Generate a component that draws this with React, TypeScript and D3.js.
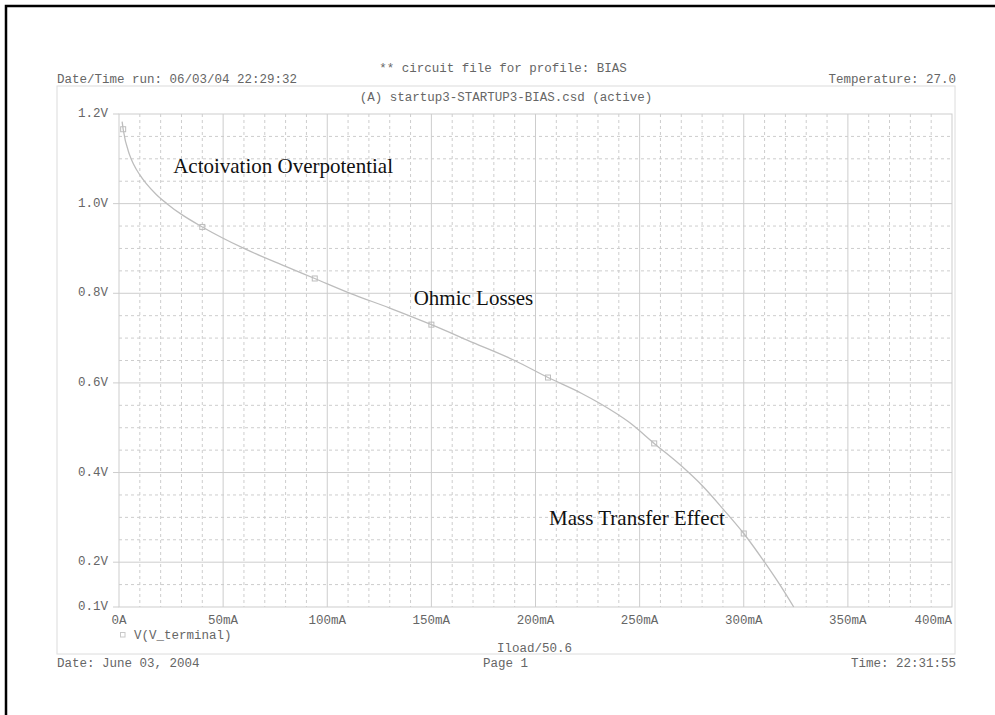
import React from "react";
import * as d3 from "d3";

const curveI = [1.5, 2, 5, 7, 10, 13, 18, 23, 30, 40, 60, 80, 94, 111, 130, 150, 170, 190, 206, 222, 231, 245, 257, 270, 280, 290, 300, 310, 317, 324];
const curveV = [1.183, 1.166, 1.11, 1.088, 1.064, 1.045, 1.02, 1.0, 0.976, 0.948, 0.9, 0.86, 0.833, 0.8, 0.767, 0.73, 0.69, 0.65, 0.612, 0.577, 0.554, 0.512, 0.465, 0.415, 0.371, 0.319, 0.264, 0.2, 0.152, 0.1];
const markerI = [2, 40, 94, 150, 206, 257, 300];
const markerV = [1.166, 0.948, 0.833, 0.73, 0.612, 0.465, 0.264];
const xTicks = [0, 50, 100, 150, 200, 250, 300, 350, 400];
const xTickLabels = ["0A", "50mA", "100mA", "150mA", "200mA", "250mA", "300mA", "350mA", "400mA"];
const yTicks = [0.1, 0.2, 0.4, 0.6, 0.8, 1.0, 1.2];
const yTickLabels = ["0.1V", "0.2V", "0.4V", "0.6V", "0.8V", "1.0V", "1.2V"];
const annotations = [
  { text: "Actoivation Overpotential", i: 26, v: 1.068 },
  { text: "Ohmic Losses", i: 141.5, v: 0.774 },
  { text: "Mass Transfer Effect", i: 206.5, v: 0.282 },
];

const mono = "'Liberation Mono', 'Courier New', monospace";
const serif = "'Liberation Serif', 'Times New Roman', serif";
const txt = "#666";
const gridC = "#cdcdcd";

export default function App() {
  const x = d3.scaleLinear().domain([0, 400]).range([119, 952]);
  const y = d3.scaleLinear().domain([0.1, 1.2]).range([607, 114]);
  const minorX = d3.range(0, 401, 10).filter((v) => v % 50 !== 0);
  const minorY = d3.range(0.15, 1.2, 0.05).map((v) => Math.round(v * 100) / 100).filter((v) => Math.round(v * 100) % 20 !== 0);
  const majorY = [0.2, 0.4, 0.6, 0.8, 1.0];
  const line = d3.line<number>().x((d, i) => x(curveI[i])).y((d) => y(d)).curve(d3.curveMonotoneX);
  const [x0, x1] = x.range();
  const [y0, y1] = y.range();
  return (
    <svg width={995} height={715} style={{ position: "absolute", left: 0, top: 0, background: "#fff" }}>
      <rect x={6} y={6} width={1100} height={800} fill="none" stroke="#000" strokeWidth={2.5} />
      <rect x={57} y={86} width={898} height={568} fill="none" stroke="#dcdcdc" strokeWidth={1} />
      {minorX.map((v) => (
        <line key={"mx" + v} x1={x(v)} x2={x(v)} y1={y1} y2={y0} stroke={gridC} strokeWidth={1} strokeDasharray="3,3" />
      ))}
      {minorY.map((v) => (
        <line key={"my" + v} x1={x0} x2={x1} y1={y(v)} y2={y(v)} stroke={gridC} strokeWidth={1} strokeDasharray="3,3" />
      ))}
      {xTicks.slice(1, -1).map((v) => (
        <line key={"Mx" + v} x1={x(v)} x2={x(v)} y1={y1} y2={y0} stroke={gridC} strokeWidth={1} />
      ))}
      {majorY.map((v) => (
        <line key={"My" + v} x1={x0} x2={x1} y1={y(v)} y2={y(v)} stroke={gridC} strokeWidth={1} />
      ))}
      <rect x={x0} y={y1} width={x1 - x0} height={y0 - y1} fill="none" stroke={gridC} strokeWidth={1} />
      {yTicks.map((v) => (
        <line key={"yt" + v} x1={x0 - 6} x2={x0} y1={y(v)} y2={y(v)} stroke={gridC} strokeWidth={1} />
      ))}
      <path d={line(curveV) || ""} fill="none" stroke="#bdbdbd" strokeWidth={1.3} />
      {markerI.map((v, i) => (
        <rect key={"mk" + i} x={x(v) - 2.5} y={y(markerV[i]) - 2.5} width={5} height={5} fill="none" stroke="#bdbdbd" strokeWidth={1} />
      ))}
      <g fontFamily={mono} fontSize={12.5} fill={txt}>
        {yTicks.map((v, i) => (
          <text key={"yl" + v} x={108} y={y(v)} dominantBaseline="central" textAnchor="end">{yTickLabels[i]}</text>
        ))}
        {xTicks.map((v, i) => (
          <text key={"xl" + v} x={x(v)} y={624} textAnchor={i === xTicks.length - 1 ? "end" : "middle"}>{xTickLabels[i]}</text>
        ))}
        <text x={503} y={72} textAnchor="middle">** circuit file for profile: BIAS</text>
        <text x={57} y={83}>Date/Time run: 06/03/04 22:29:32</text>
        <text x={956} y={83} textAnchor="end">Temperature: 27.0</text>
        <text x={506} y={101} textAnchor="middle">(A) startup3-STARTUP3-BIAS.csd (active)</text>
        <text x={134} y={639}>V(V_terminal)</text>
        <text x={497} y={652}>Iload/50.6</text>
        <text x={57} y={667}>Date: June 03, 2004</text>
        <text x={483} y={667}>Page 1</text>
        <text x={956} y={667} textAnchor="end">Time: 22:31:55</text>
      </g>
      <rect x={120.5} y={632.5} width={4.5} height={4.5} fill="none" stroke="#c8c8c8" strokeWidth={1} />
      <g fontFamily={serif} fontSize={21} fill="#111">
        {annotations.map((a) => (
          <text key={a.text} x={x(a.i)} y={y(a.v)}>{a.text}</text>
        ))}
      </g>
    </svg>
  );
}
